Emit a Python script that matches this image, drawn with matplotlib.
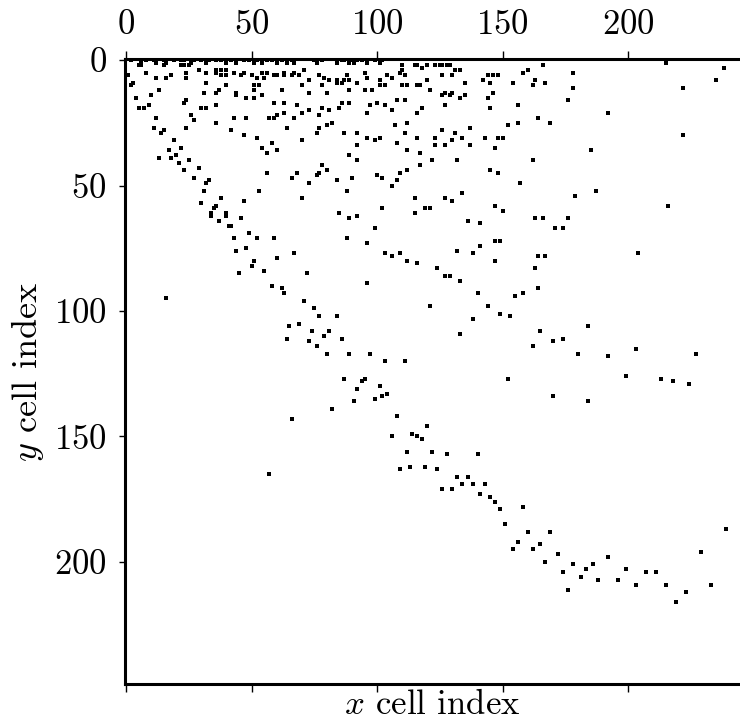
import numpy as np
import matplotlib
matplotlib.use('Agg')
import matplotlib.pyplot as plt

# ---- non-zero cells (x = column index, y = row index) ----
top_x = [2, 6, 8, 11, 12, 15, 16, 19, 22, 23, 26, 27, 30, 32, 33, 36, 38, 40, 42, 44, 47, 49, 51, 52, 54, 56, 58, 60,
         62, 64, 66, 67, 75, 76, 78, 84, 86, 87, 89, 90, 91, 92, 94, 96, 99, 101, 102]
top_y = [0, 1, 0, 0, 1, 0, 1, 0, 0, 0, 1, 0, 0, 1, 0, 0, 0, 1, 0, 1, 0, 0, 1, 0, 1, 0, 0, 1,
         0, 1, 0, 1, 0, 1, 0, 1, 0, 0, 1, 0, 1, 0, 0, 1, 0, 1, 0]

cells_left = [(5, 2), (6, 2), (15, 2), (22, 2), (23, 2), (25, 2),
              (1, 6), (8, 5), (12, 7), (16, 7), (18, 6), (24, 5), (24, 7), (29, 4), (32, 5), (36, 4), (36, 5),
              (38, 4), (38, 6), (40, 4), (40, 6), (43, 5), (46, 6), (47, 5), (50, 6), (52, 7), (54, 5), (55, 7),
              (56, 5), (59, 6), (60, 6),
              (3, 9), (2, 10), (32, 9), (51, 10), (53, 10), (13, 12), (10, 14), (31, 13), (36, 13), (37, 12),
              (40, 10), (51, 12), (44, 13), (44, 14), (48, 15), (51, 15), (54, 14), (4, 15), (23, 17), (24, 16),
              (36, 18), (59, 17), (5, 19), (7, 19), (9, 18), (30, 19), (32, 19),
              (12, 23), (26, 22), (27, 24), (36, 25), (43, 23), (48, 23), (57, 23), (59, 23), (60, 22),
              (11, 27), (14, 29), (15, 28), (24, 27), (42, 28), (47, 30), (52, 31), (19, 32), (17, 36), (22, 35),
              (54, 35), (58, 33), (56, 37), (60, 36), (20, 38), (18, 39), (13, 39), (25, 40), (21, 41), (23, 44),
              (29, 43), (27, 47), (56, 45), (32, 49), (33, 48), (31, 52), (53, 52), (38, 55), (47, 56), (30, 57),
              (36, 58), (35, 59), (34, 61), (40, 61)]

cells_mid = [(110, 2), (115, 2), (116, 2), (118, 3), (120, 2), (123, 2), (125, 2),
             (63, 5), (63, 6), (66, 6), (67, 5), (69, 6), (71, 4), (73, 8), (77, 6), (79, 7), (81, 8), (84, 8),
             (84, 9), (86, 9), (87, 8), (89, 8), (88, 6), (92, 9), (95, 5), (96, 7), (101, 8), (104, 6), (106, 7),
             (109, 5), (110, 4), (111, 6), (120, 8),
             (62, 12), (70, 10), (73, 13), (78, 10), (80, 13), (89, 12), (95, 12), (98, 12), (101, 10), (103, 10),
             (110, 10), (112, 10), (116, 10), (117, 10), (121, 12),
             (63, 17), (68, 18), (78, 19), (86, 17), (89, 17), (97, 18), (100, 17), (103, 18), (108, 16), (111, 16),
             (63, 21), (67, 23), (70, 21), (73, 20), (77, 22), (81, 20), (85, 19), (96, 21), (106, 20), (116, 21),
             (118, 19),
             (64, 27), (76, 29), (77, 27), (80, 26), (82, 25), (87, 29), (92, 29), (96, 31), (99, 32), (101, 31),
             (107, 26), (112, 25), (111, 29), (108, 33), (116, 31), (123, 31), (123, 34), (70, 32), (92, 34),
             (89, 38), (92, 40), (112, 36), (117, 37), (122, 40), (117, 42), (78, 42), (80, 44), (76, 46), (77, 45),
             (68, 45), (66, 47), (73, 49), (84, 48), (90, 47), (100, 46), (102, 47), (109, 45), (112, 44), (108, 48),
             (106, 50), (88, 52), (70, 55), (115, 55), (102, 59), (119, 59), (121, 59), (85, 61), (92, 62), (115, 61)]

cells_right = [(126, 2), (128, 2), (129, 2), (131, 4), (133, 4), (166, 2),
               (126, 6), (130, 6), (135, 9), (144, 6), (146, 6), (148, 6), (142, 8), (145, 9), (154, 9), (158, 5),
               (160, 4), (162, 10), (163, 8), (167, 9), (178, 5), (178, 11), (126, 14), (127, 13), (129, 14),
               (130, 13), (133, 15), (135, 14), (144, 15), (146, 13), (176, 16), (127, 18), (145, 19), (156, 18),
               (164, 23), (156, 25), (152, 26), (169, 25), (137, 27), (126, 28), (131, 29), (134, 31), (130, 32),
               (143, 31), (148, 31), (150, 31), (127, 34), (137, 34), (147, 35), (185, 36), (132, 40), (162, 40),
               (145, 44), (148, 45), (157, 49), (134, 53), (127, 55), (130, 56), (179, 54), (187, 52), (147, 58),
               (150, 60),
               (215, 1), (238, 3), (235, 8), (222, 11), (192, 21), (222, 30), (216, 58)]

cells_lower = [(34, 62), (37, 64), (40, 62), (41, 66), (42, 66), (46, 63), (49, 69), (43, 71), (52, 71), (59, 71),
               (44, 76), (48, 75), (51, 80), (60, 79), (50, 82), (55, 84), (45, 85), (58, 90), (16, 95),
               (89, 63), (92, 62), (99, 67), (88, 71), (96, 73), (67, 77), (103, 77), (106, 78), (109, 77),
               (112, 80), (116, 81), (124, 83), (72, 85), (96, 89), (62, 91), (63, 93), (71, 96), (121, 98),
               (75, 99), (77, 102), (84, 102), (65, 106), (69, 105), (74, 108), (81, 108), (79, 110), (64, 111),
               (73, 112), (86, 111), (76, 114), (80, 117), (89, 117), (97, 117), (103, 120), (111, 120),
               (136, 64), (141, 65), (163, 63), (166, 63), (176, 63), (171, 67), (174, 67), (147, 72), (149, 72),
               (141, 74), (132, 76), (138, 77), (164, 78), (167, 78), (147, 80), (163, 83), (127, 86), (129, 86),
               (133, 88), (164, 91), (140, 93), (155, 94), (158, 93), (144, 98), (149, 101), (153, 102), (138, 103),
               (184, 106), (165, 108), (133, 109), (174, 111), (170, 112), (162, 114), (180, 117),
               (204, 77), (203, 115), (192, 118), (227, 117), (199, 126)]

cells_bottom = [(87, 127), (94, 128), (95, 127), (92, 131), (101, 130), (91, 136), (99, 135), (102, 134), (104, 133),
                (82, 139), (66, 143), (108, 142), (120, 146), (106, 150), (114, 149), (116, 150), (118, 151),
                (112, 156), (122, 156), (109, 163), (113, 162), (119, 162), (124, 163), (57, 165),
                (152, 127), (199, 126), (213, 127), (218, 128), (224, 129), (170, 134), (184, 136), (128, 157),
                (140, 157), (132, 166), (136, 166), (126, 171), (130, 171), (134, 169), (138, 169), (143, 169),
                (141, 173), (145, 174), (147, 176), (149, 179), (158, 178), (151, 185), (160, 188), (169, 188),
                (239, 187),
                (154, 195), (156, 192), (162, 195), (165, 193), (167, 200), (172, 197), (174, 204), (176, 211),
                (178, 201), (181, 206), (183, 203), (186, 201), (188, 207), (192, 198), (196, 207), (199, 203),
                (203, 209), (207, 204), (211, 204), (215, 209), (219, 216), (223, 212), (229, 196), (233, 209)]

n_cols = 245
n_rows = 249
x_ticks = [0, 50, 100, 150, 200]
y_ticks = [0, 50, 100, 150, 200]

pairs = np.array(cells_left + cells_mid + cells_right + cells_lower + cells_bottom)
xs = np.concatenate([top_x, pairs[:, 0]])
ys = np.concatenate([top_y, pairs[:, 1]])

# -------- style --------
plt.rcParams['font.family'] = 'serif'
plt.rcParams['font.serif'] = ['cmr10']
plt.rcParams['mathtext.fontset'] = 'cm'
plt.rcParams['axes.unicode_minus'] = False
plt.rcParams['axes.formatter.use_mathtext'] = True

fig = plt.figure(figsize=(7.4, 7.23), dpi=100)
ax = fig.add_axes([0.1685, 0.0544, 0.8315, 0.8643])

ax.plot(xs, ys, linestyle='none', marker='s', markersize=2.2, color='k', markeredgewidth=0)

ax.set_xlim(-0.5, n_cols - 0.5)
ax.set_ylim(n_rows - 0.5, -0.5)

for side in ['top', 'bottom', 'left']:
    ax.spines[side].set_linewidth(2.2)
ax.spines['right'].set_visible(False)

ax.set_xticks(x_ticks)
ax.set_yticks(y_ticks)
ax.tick_params(axis='x', top=True, labeltop=True, bottom=True, labelbottom=False,
               length=6, width=1.0, pad=7, labelsize=25)
ax.tick_params(axis='y', length=4, width=1.0, pad=9, labelsize=25)

ax.set_xlabel(r'$x$ cell index', fontsize=25, labelpad=-2)
ax.set_ylabel(r'$y$ cell index', fontsize=26, labelpad=6)

plt.savefig('out.png', dpi=100)
